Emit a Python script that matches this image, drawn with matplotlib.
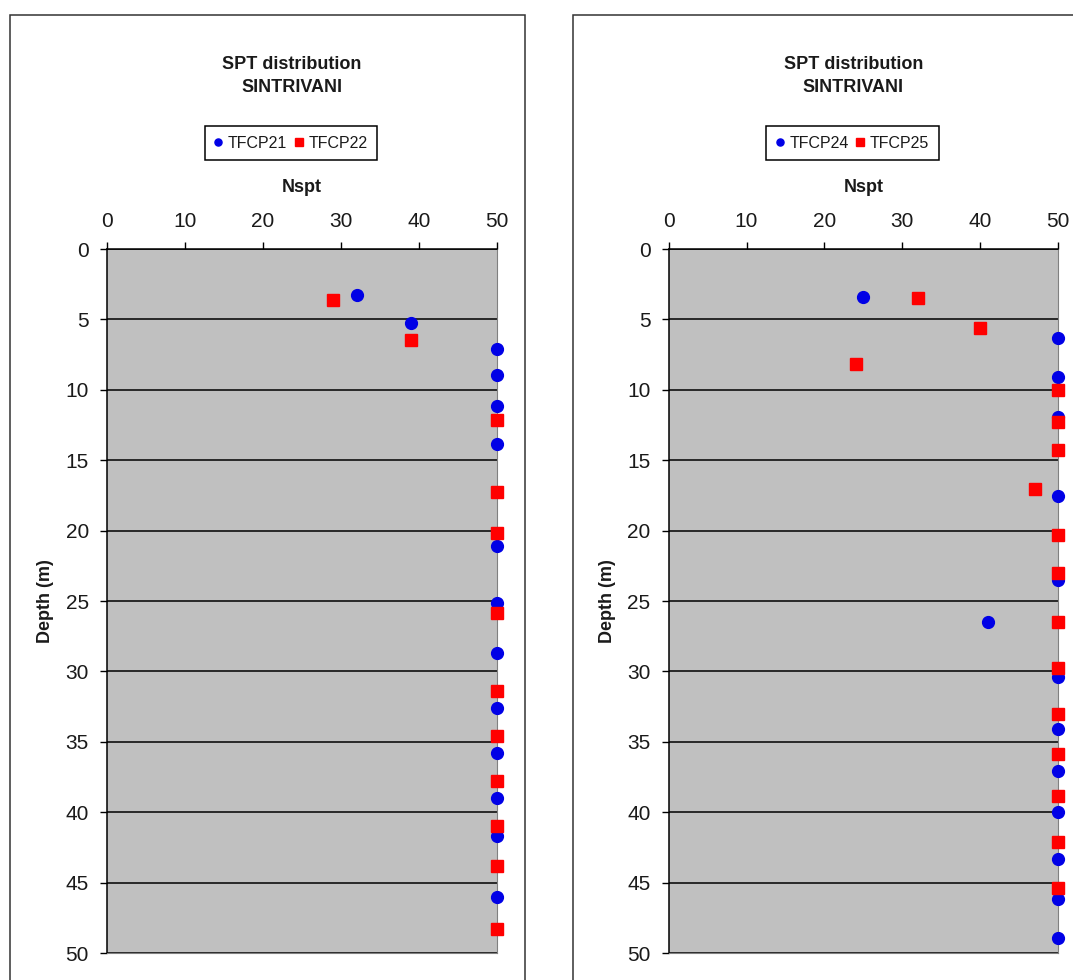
import matplotlib.pyplot as plt
from matplotlib.patches import Rectangle

plt.rcParams['font.family'] = ['Liberation Sans', 'DejaVu Sans']

# data: Nspt value and depth (m)
tfcp21_n = [32, 39, 50, 50, 50, 50, 50, 50, 50, 50, 50, 50, 50, 50]
tfcp21_d = [3.3, 5.26, 7.13, 8.92, 11.12, 13.87, 21.08, 25.16, 28.71, 32.6, 35.8, 39.0, 41.7, 46.04]
tfcp22_n = [29, 39, 50, 50, 50, 50, 50, 50, 50, 50, 50, 50]
tfcp22_d = [3.64, 6.49, 12.16, 17.25, 20.15, 25.87, 31.36, 34.62, 37.77, 41.0, 43.84, 48.33]

tfcp24_n = [25, 50, 50, 50, 50, 50, 41, 50, 50, 50, 50, 50, 50, 50]
tfcp24_d = [3.42, 6.32, 9.09, 11.92, 17.53, 23.5, 26.47, 30.41, 34.1, 37.06, 40.0, 43.3, 46.15, 48.97]
tfcp25_n = [32, 40, 24, 50, 50, 50, 47, 50, 50, 50, 50, 50, 50, 50, 50, 50]
tfcp25_d = [3.46, 5.59, 8.14, 10.03, 12.28, 14.29, 17.05, 20.32, 23.04, 26.47, 29.77, 33.0, 35.85, 38.83, 42.1, 45.38]

title = 'SPT distribution\nSINTRIVANI'
x_ticks = [0, 10, 20, 30, 40, 50]
y_ticks = [0, 5, 10, 15, 20, 25, 30, 35, 40, 45, 50]

W, H = 1073, 980
fig = plt.figure(figsize=(W / 100, H / 100), dpi=100)


def fx(px):
    return px / W


def fy(py):
    return 1 - py / H


panels = [
    # frame left/right px, axes left/right px, label x px, series
    (10, 525, 107, 497, 45, ('TFCP21', tfcp21_n, tfcp21_d), ('TFCP22', tfcp22_n, tfcp22_d)),
    (573, 1090, 668.6, 1058.3, 608, ('TFCP24', tfcp24_n, tfcp24_d), ('TFCP25', tfcp25_n, tfcp25_d)),
]

top, bottom = 249, 953
txt = '#1a1a1a'

for fl, fr, al, ar, lx, blue, red in panels:
    # outer chart border
    fig.patches.append(Rectangle((fx(fl), fy(1000)), fx(fr - fl), (1000 - 15) / H,
                                 transform=fig.transFigure, fill=False,
                                 edgecolor='#333333', lw=1.1, zorder=0))

    ax = fig.add_axes([fx(al), fy(bottom), (ar - al) / W, (bottom - top) / H])
    ax.set_facecolor('#C0C0C0')
    ax.set_xlim(0, 50)
    ax.set_ylim(50, 0)
    ax.xaxis.tick_top()
    ax.set_xticks(x_ticks)
    ax.set_yticks(y_ticks)
    ax.tick_params(direction='out', length=5, width=1, labelsize=15, pad=8,
                   labelcolor=txt, color='black')
    ax.tick_params(axis='x', bottom=False)
    ax.tick_params(axis='y', right=False)
    ax.grid(axis='y', color='black', lw=1.1)
    ax.grid(axis='x', visible=False)
    ax.set_axisbelow(True)
    for s in ['top', 'left']:
        ax.spines[s].set_color('black')
        ax.spines[s].set_linewidth(1.1)
    for s in ['right', 'bottom']:
        ax.spines[s].set_color('#808080')
        ax.spines[s].set_linewidth(0.8)

    hb, = ax.plot(blue[1], blue[2], 'o', color='#0000E6', ms=8.5, mec='#0000E6',
                  clip_on=False, zorder=4, label=blue[0])
    hr, = ax.plot(red[1], red[2], 's', color='#FF0000', ms=9, mec='#FF0000',
                  clip_on=False, zorder=5, label=red[0])

    cx = (al + ar) / 2
    fig.text(fx(cx - 10), fy(76), title, ha='center', va='center', fontsize=13,
             fontweight='bold', color=txt, linespacing=1.45)
    fig.legend(handles=[hb, hr], loc='center', bbox_to_anchor=(fx(cx - 11), fy(143)),
               ncol=2, fontsize=11.5, frameon=True, fancybox=False, edgecolor='black',
               framealpha=1, handlelength=0.5, handletextpad=0.35, columnspacing=0.5,
               borderpad=0.6, markerscale=0.6, labelcolor=txt).get_frame().set_linewidth(1.1)
    fig.text(fx(cx), fy(187), 'Nspt', ha='center', va='center', fontsize=13,
             fontweight='bold', color=txt)
    fig.text(fx(lx), fy((top + bottom) / 2), 'Depth (m)', ha='center', va='center',
             rotation=90, fontsize=13, fontweight='bold', color=txt)

fig.savefig('out.png', dpi=100)
